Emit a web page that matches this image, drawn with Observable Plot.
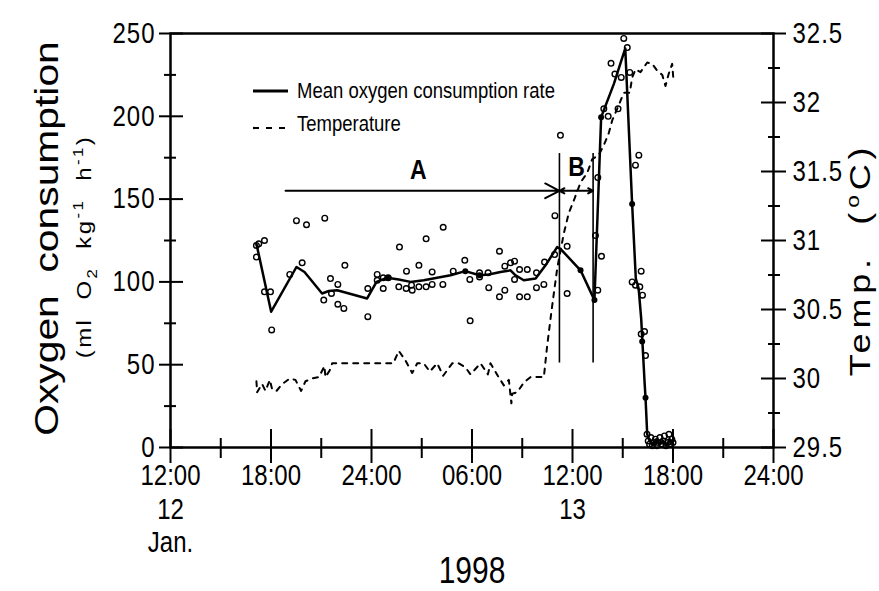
<!DOCTYPE html>
<html><head><meta charset="utf-8">
<script src="https://cdn.jsdelivr.net/npm/d3@7"></script>
<script src="https://cdn.jsdelivr.net/npm/@observablehq/plot@0.6"></script>
<style>
html,body{margin:0;padding:0;background:#fff;}
#wrap{position:relative;width:879px;height:591px;overflow:hidden;}
svg text{font-family:"Liberation Sans",Arial,Helvetica,sans-serif;white-space:pre;}
g[aria-label="y-axis tick label"] text{letter-spacing:1px;}
#legend{position:absolute;left:240px;top:70px;}
</style></head><body><div id="wrap"></div>
<script>
// ---- data: hours after 12:00, 12 Jan 1998 ----
const xTickHours = [0, 6, 12, 18, 24, 30, 36];
const xTickLabels = ["12:00", "18:00", "24:00", "06:00", "12:00", "18:00", "24:00"];
const xMinorHours = [3, 9, 15, 21, 27, 33];
const dayLabelHours = [0, 24];
const dayLabels = ["12", "13"];
const monthLabelHours = [0];
const monthLabels = ["Jan."];
const yearLabel = "1998";
const yearLabelHour = 18;

const leftTicks = [0, 50, 100, 150, 200, 250];
const leftMinorTicks = [25, 75, 125, 175, 225];
const rightTicks = [29.5, 30, 30.5, 31, 31.5, 32, 32.5];
const rightMinorTicks = [29.75, 30.25, 30.75, 31.25, 31.75, 32.25];

// individual oxygen consumption measurements (open circles)
const o2Hours = [5.13,5.13,5.27,5.61,5.61,5.97,6.04,7.12,7.52,7.86,8.12,9.15,9.21,9.55,9.61,9.99,9.99,10.35,10.41,11.78,11.78,
  12.34,12.34,12.70,12.70,13.00,13.63,13.67,14.07,14.09,14.39,14.43,14.83,14.83,15.26,15.26,15.62,15.62,16.26,16.28,16.88,
  17.57,17.87,17.89,18.45,18.45,18.96,19.00,19.64,19.64,19.96,19.96,20.30,20.54,20.54,20.84,20.84,21.30,21.30,21.85,21.85,
  22.29,22.33,22.93,22.95,23.28,23.68,23.68,25.37,25.51,25.51,25.73,25.87,26.13,26.30,26.53,26.72,26.91,27.06,27.27,27.42,
  27.56,27.76,27.76,27.96,28.02,28.10,28.10,28.18,28.30,28.36,
  28.45,28.52,28.60,28.68,28.77,28.86,28.95,29.04,29.13,29.22,29.31,29.40,29.49,29.58,29.67,29.76,29.85,29.93,30.00];
const o2Values = [115,122,123,125,94,94,71,104.5,137,111.5,134.5,89,138.5,102,93,98.5,86.5,84,110,96,79,
  104.5,101,102.5,96,102.5,97,121,96,106.5,98,95,110,97,126,97,106,98.5,98.5,133,106.5,
  113,101.5,76.5,105.5,103,105.5,96.5,118.5,91,109.5,95,111.5,112.5,101.5,107.5,91,107.5,91,105.5,96.5,
  98.5,112,116.5,140,188.5,121.5,93,128,163,95,115.5,204.5,200,232,225.5,204.5,223.5,247,241.5,226.5,
  100,98,170.5,176.5,97,106.5,68.5,92,70,55.5,
  8,4,2,6,1,3,5,1,3,6,2,4,7,1,3,8,2,5,3];

// mean oxygen consumption rate (solid line)
const meanHours = [5.13,6.01,7.52,8.00,9.05,9.45,9.95,11.74,12.30,12.94,13.63,14.33,15.12,15.92,16.72,17.60,18.45,19.00,19.70,
  20.30,20.60,21.09,21.80,22.39,23.08,23.28,24.48,25.31,25.71,25.90,26.47,27.15,27.56,27.78,27.95,28.10,28.30,28.36,28.46,
  28.60,28.80,29.00,29.20,29.40,29.60,29.80,30.00];
const meanValues = [123,82,109,106,93,94.5,95,90,100,102.5,101.5,100,101,102.5,104,106.5,104,104.5,106,
  107,104,101,102,110,121,120,107,89,199.5,204.5,219.6,241,147,102,96,78,40,30,8,
  4,2,5,2,4,1,5,2];

// filled points on the mean line
const filledHours = [12.94,17.60,18.45,24.48,25.31,25.71,27.56,28.16,28.36];
const filledValues = [102.5,106.5,104,107,89,199.5,147,64,30];

// water temperature (°C, dashed line)
const tempHours = [5.13,5.17,5.47,5.67,5.93,6.07,6.33,6.67,7.12,7.46,7.80,8.06,8.46,8.86,9.19,9.25,9.51,9.65,10.5,11.5,12.5,13.3,
  13.63,14.03,14.43,14.73,15.12,15.48,15.92,16.28,16.82,17.21,17.61,17.91,18.51,18.95,19.10,19.54,19.90,20.20,20.35,20.40,
  20.70,21.09,21.49,22.29,22.49,22.79,23.09,23.48,23.78,24.08,24.48,24.88,25.18,25.57,25.87,26.17,26.37,26.76,27.06,27.42,
  27.56,27.76,28.06,28.46,28.76,29.06,29.36,29.55,29.75,29.95,30.03];
const tempValues = [29.98,29.90,29.96,29.91,29.99,29.92,29.91,29.96,30.00,29.99,29.91,29.98,30.00,30.01,30.09,30.01,30.06,30.11,30.11,30.11,30.11,30.11,
  30.20,30.13,30.04,30.11,30.11,30.05,30.11,30.02,30.11,30.11,30.08,30.03,30.11,30.03,30.11,30.02,29.95,29.99,29.82,29.89,
  29.90,29.97,30.01,30.01,30.24,30.53,30.80,31.05,31.20,31.29,31.42,31.49,31.59,31.62,31.69,31.78,31.87,31.98,32.07,32.07,
  32.18,32.24,32.22,32.29,32.28,32.23,32.20,32.12,32.21,32.28,32.16];

// phases A and B
const phaseSepHours = [23.22, 25.23];
const phaseSepLow = 51;
const phaseSepHigh = 177.5;
const phaseArrowLevel = 155;
const phaseAStart = 6.87;
const phaseLabels = ["A", "B"];
const phaseLabelHours = [14.8, 24.24];
const phaseLabelValues = [167.5, 169];

const legendLabels = ["Mean oxygen consumption rate", "Temperature"];

// ---- build ----
const toY = t => (t - 29.5) / 3 * 250;
const fromY = y => 29.5 + y * 3 / 250;
const fmtT = v => { const r = Math.round(v * 10) / 10; return Number.isInteger(r) ? String(r) : r.toFixed(1); };

const o2 = o2Hours.map((h, i) => ({h, v: o2Values[i]}));
const mean = meanHours.map((h, i) => ({h, v: meanValues[i]}));
const filled = filledHours.map((h, i) => ({h, v: filledValues[i]}));
const temp = tempHours.map((h, i) => ({h, t: tempValues[i]}));
const seps = phaseSepHours.map(h => ({h, y1: phaseSepLow, y2: phaseSepHigh}));
const midB = (phaseSepHours[0] + phaseSepHours[1]) / 2;
const arrows = [
  {x1: phaseAStart, x2: phaseSepHours[0], y: phaseArrowLevel},
  {x1: midB, x2: phaseSepHours[0], y: phaseArrowLevel},
  {x1: midB, x2: phaseSepHours[1], y: phaseArrowLevel}
];
const phases = phaseLabels.map((l, i) => ({l, h: phaseLabelHours[i], v: phaseLabelValues[i]}));
const days = dayLabels.map((l, i) => ({l, h: dayLabelHours[i]}));
const months = monthLabels.map((l, i) => ({l, h: monthLabelHours[i]}));

const FONT = '"Liberation Sans", Arial, Helvetica, sans-serif';
const T = {textAnchor: "middle", lineAnchor: "middle"};

const plot = Plot.plot({
  width: 879, height: 591,
  marginLeft: 170, marginRight: 106, marginTop: 33, marginBottom: 144,
  x: {domain: [0, 36], label: null},
  y: {domain: [0, 250], label: null},
  style: {fontFamily: FONT, fontSize: "24px", color: "black", background: "white", overflow: "visible"},
  marks: [
    // axes: labels
    Plot.axisY({anchor: "left", ticks: leftTicks, tickSize: 0, tickPadding: 15, fontSize: 24, label: null}),
    Plot.axisY({anchor: "left", ticks: leftTicks, tickSize: 24, dx: 13, tickFormat: () => "", strokeWidth: 2, label: null}),
    Plot.axisY({anchor: "left", ticks: leftMinorTicks, tickSize: 12, dx: 6, tickFormat: () => "", strokeWidth: 2, label: null}),
    Plot.axisY({anchor: "right", ticks: rightTicks.map(toY), tickSize: 0, tickPadding: 19, tickFormat: y => fmtT(fromY(y)), fontSize: 24, label: null}),
    Plot.axisY({anchor: "right", ticks: rightTicks.map(toY), tickSize: 25, dx: -13, tickFormat: () => "", strokeWidth: 2, label: null}),
    Plot.axisY({anchor: "right", ticks: rightMinorTicks.map(toY), tickSize: 12, dx: -6, tickFormat: () => "", strokeWidth: 2, label: null}),
    Plot.axisX({anchor: "bottom", ticks: xTickHours, tickSize: 0, tickPadding: 17, fontSize: 24,
      tickFormat: d => xTickLabels[xTickHours.indexOf(d)], label: null}),
    Plot.axisX({anchor: "bottom", ticks: xTickHours, tickSize: 34, dy: -18, tickFormat: () => "", strokeWidth: 2, label: null}),
    Plot.axisX({anchor: "bottom", ticks: xMinorHours, tickSize: 20, dy: -9, tickFormat: () => "", strokeWidth: 2, label: null}),
    Plot.frame({stroke: "black", strokeWidth: 2.5}),
    // sub-rows of x labels
    Plot.text(days, {x: "h", text: "l", frameAnchor: "bottom", dy: 62, fontSize: 24, ...T}),
    Plot.text(months, {x: "h", text: "l", frameAnchor: "bottom", dy: 95, fontSize: 24, ...T}),
    Plot.text([yearLabel], {x: () => yearLabelHour, text: d => d, frameAnchor: "bottom", dy: 124, fontSize: 30, ...T}),
    // axis titles
    Plot.text(["Oxygen  consumption"], {frameAnchor: "left", rotate: -90, dx: -123, dy: -2, fontSize: 34, ...T}),
    Plot.text(["(ml  O2  kg-1  h-1)"], {frameAnchor: "left", rotate: -90, dx: -86, dy: 6, fontSize: 20, ...T}),
    Plot.text(["Temp.  (oC)"], {frameAnchor: "right", rotate: -90, dx: 87, dy: 19, fontSize: 30, ...T}),
    // data
    Plot.line(temp, {x: "h", y: d => toY(d.t), stroke: "black", strokeWidth: 2, strokeDasharray: "5,6"}),
    Plot.line(mean, {x: "h", y: "v", stroke: "black", strokeWidth: 2.5}),
    Plot.dot(o2, {x: "h", y: "v", r: 2.8, stroke: "black", strokeWidth: 1.4, fill: "none"}),
    Plot.dot(filled, {x: "h", y: "v", r: 3, fill: "black"}),
    // phases
    Plot.ruleX(seps, {x: "h", y1: "y1", y2: "y2", stroke: "black", strokeWidth: 1.6}),
    Plot.arrow(arrows, {x1: "x1", x2: "x2", y1: "y", y2: "y", stroke: "black", strokeWidth: 2, headLength: 12, headAngle: 55}),
    Plot.text(phases, {x: "h", y: "v", text: "l", fontWeight: "bold", fontSize: 23, ...T})
  ]
});

// vertical stretch of all lettering, as in the scanned figure
plot.querySelectorAll("text").forEach(t => {
  const tr = t.getAttribute("transform") || "";
  t.setAttribute("transform", tr + (tr.includes("rotate") ? " scale(1.2,1)" : " scale(1,1.2)"));
});

// rich text for unit and temperature titles
function rich(t, parts, spacing) {
  t.textContent = "";
  t.style.letterSpacing = spacing;
  let cur = 0;
  parts.forEach(([txt, shift, size]) => {
    const sp = document.createElementNS("http://www.w3.org/2000/svg", "tspan");
    sp.textContent = txt;
    if (shift !== cur) sp.setAttribute("dy", shift - cur);
    if (size) sp.setAttribute("font-size", size);
    cur = shift;
    t.appendChild(sp);
  });
}
plot.querySelectorAll("text").forEach(t => {
  const s = t.textContent;
  if (s === "(ml  O2  kg-1  h-1)") {
    rich(t, [["(ml  O", 0], ["2", 6, 14], ["  kg", 0], ["-1", -8, 14], ["  h", 0], ["-1", -8, 14], [")", 0]], "2px");
  } else if (s === "Temp.  (oC)") {
    rich(t, [["Temp.  (", 0], ["o", -11, 19], ["C)", 0]], "4px");
  }
});

const wrap = document.getElementById("wrap");
wrap.appendChild(plot);

// legend (inside the plot area, as in the original)
const leg = d3.select(wrap).append("svg").attr("id", "legend").attr("width", 340).attr("height", 75);
const rows = [{y: 21, base: 28, dash: null}, {y: 58, base: 61, dash: "6,7"}];
rows.forEach((r, i) => {
  leg.append("line").attr("x1", 13).attr("x2", 48).attr("y1", r.y).attr("y2", r.y)
    .attr("stroke", "black").attr("stroke-width", i === 0 ? 3 : 2.2)
    .attr("stroke-dasharray", r.dash);
  leg.append("text").attr("transform", `translate(57,${r.base}) scale(1,1.2)`)
    .attr("font-size", 18.5).attr("fill", "black").text(legendLabels[i]);
});
</script></body></html>
